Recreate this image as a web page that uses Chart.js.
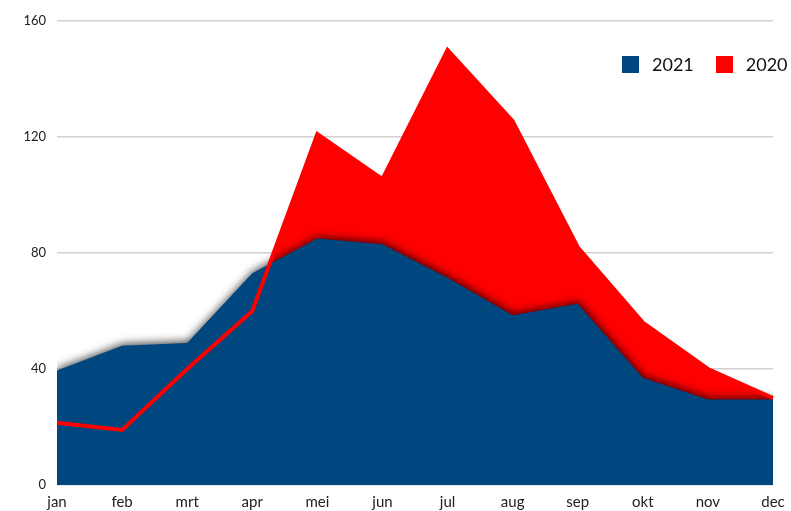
<!DOCTYPE html>
<html>
<head>
<meta charset="utf-8">
<script src="https://cdn.jsdelivr.net/npm/chart.js@4"></script>
<style>
  body { margin: 0; background: #fff; }
  #wrap { position: relative; width: 791px; height: 511px; }
  #legend { position: absolute; top: 53px; left: 622px; font: 18px Lato, "Open Sans", sans-serif; color: #111; display: flex; align-items: center; }
  #legend span.box { display: inline-block; width: 17px; height: 17px; margin-right: 13px; }
</style>
</head>
<body>
<div id="wrap">
  <canvas id="chart" width="791" height="511"></canvas>
  <div id="legend">
    <span class="box" style="background:#00467f"></span><span style="margin-right:22px">2021</span>
    <span class="box" style="background:#ff0000"></span><span>2020</span>
  </div>
</div>
<script>
const months = ["jan", "feb", "mrt", "apr", "mei", "jun", "jul", "aug", "sep", "okt", "nov", "dec"];
const values2021 = [39.5, 48, 49, 73, 85, 83, 71.5, 58.5, 62.5, 37, 29.5, 29.5];
const values2020 = [21.5, 19, 40, 60, 121, 105.5, 150, 125.5, 82, 56, 40, 30];
const yTicks = [0, 40, 80, 120, 160];

const blue = "#00467f";
const red = "#ff0000";

// schaduw rond het blauwe vlak (zoals in Excel)
const shadowPlugin = {
  id: "shadow",
  afterDatasetDraw(chart, args) {
    const ctx = chart.ctx;
    if (args.index === 2) {
      ctx.shadowColor = "rgba(0,0,0,0.7)";
      ctx.shadowBlur = 8;
      ctx.shadowOffsetX = 1;
      ctx.shadowOffsetY = -2;
    } else if (args.index === 1) {
      ctx.shadowColor = "rgba(0,0,0,0)";
      ctx.shadowBlur = 0;
      ctx.shadowOffsetX = 0;
      ctx.shadowOffsetY = 0;
    }
  },
};

new Chart(document.getElementById("chart"), {
  type: "line",
  data: {
    labels: months,
    datasets: [
      {
        label: "2020 lijn",
        data: values2020,
        borderColor: red,
        borderWidth: 4,
        fill: false,
        pointRadius: 0,
      },
      {
        label: "2021",
        data: values2021,
        borderWidth: 0,
        borderColor: blue,
        backgroundColor: blue,
        fill: "origin",
        pointRadius: 0,
      },
      {
        label: "2020",
        data: values2020,
        borderWidth: 0,
        borderColor: red,
        backgroundColor: red,
        fill: "origin",
        pointRadius: 0,
      },
    ],
  },
  options: {
    responsive: false,
    animation: false,
    layout: { padding: { top: 21, right: 18, left: 0, bottom: 0 } },
    plugins: {
      legend: { display: false },
      tooltip: { enabled: false },
    },
    scales: {
      x: {
        offset: false,
        afterFit(scale) { scale.height = 26; },
        grid: { display: false },
        border: { display: false },
        ticks: { color: "#222", font: { family: "Lato", size: 15 }, padding: 0, maxRotation: 0 },
      },
      y: {
        min: 0,
        max: 160,
        afterFit(scale) { scale.width = 57; },
        afterBuildTicks(scale) { scale.ticks = yTicks.map((v) => ({ value: v })); },
        grid: { color: "#d0d0d0", lineWidth: 1.5, drawTicks: false },
        border: { display: false },
        ticks: { color: "#222", font: { family: "Lato", size: 13 }, padding: 11 },
      },
    },
  },
  plugins: [shadowPlugin],
});
</script>
</body>
</html>
